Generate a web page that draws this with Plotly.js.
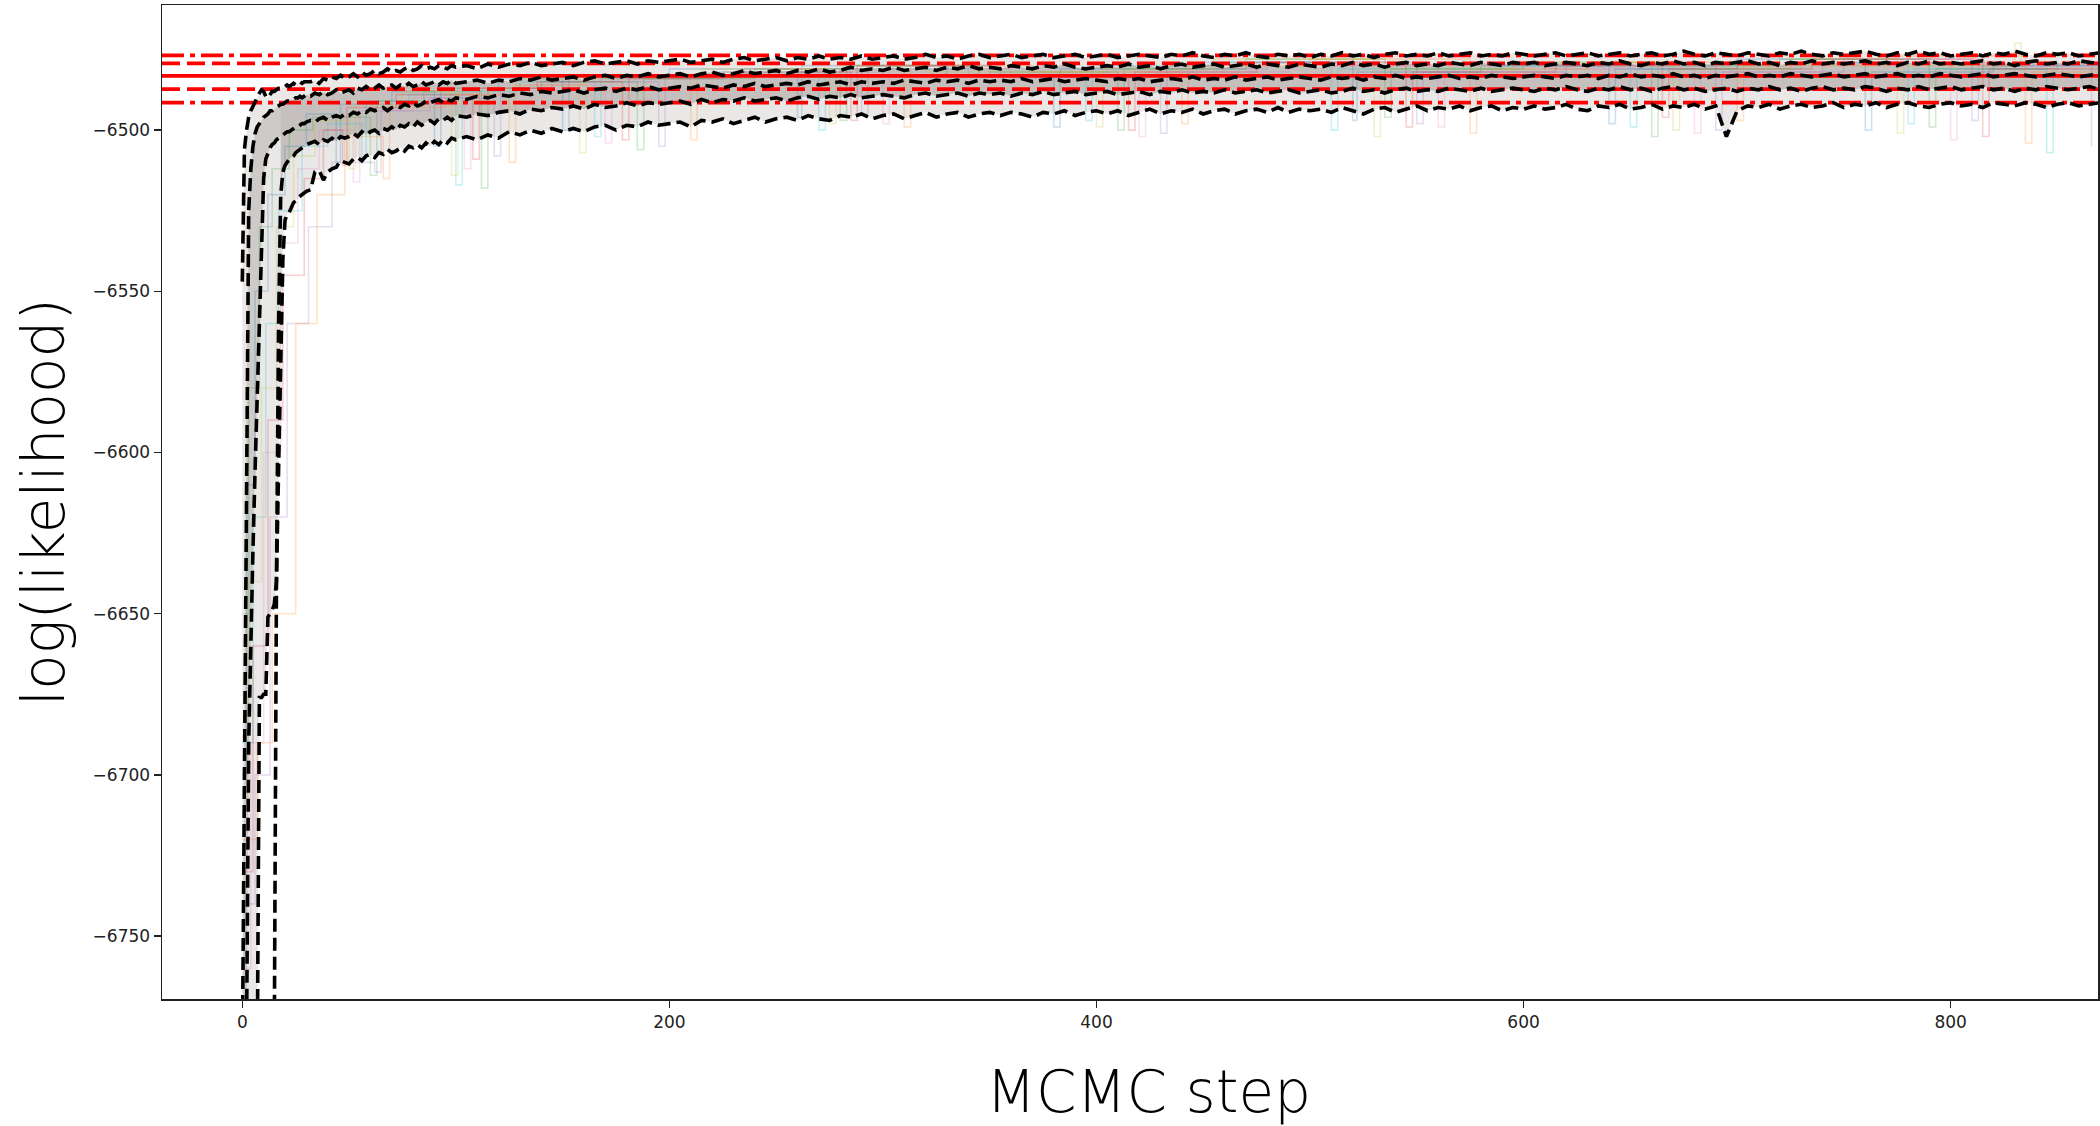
<!DOCTYPE html>
<html>
<head>
<meta charset="utf-8">
<script src="https://cdn.plot.ly/plotly-3.0.1.min.js"></script>
<style>
  html, body { margin: 0; padding: 0; background: #fff; }
  #chart { width: 2100px; height: 1126px; }
</style>
</head>
<body>
<div id="chart"></div>
<script>
// MCMC step grid: every step early on, then coarser
const steps = [
  0,1,2,3,4,5,6,7,8,9,10,11,12,13,14,15,16,17,18,19,20,21,22,23,24,25,26,27,28,29,30,
  32,34,36,38,40,42,44,46,48,50,52,54,56,58,60,62,64,66,68,70,72,74,76,78,80,82,84,86,88,90,92,94,96,98,100,
  105,110,115,120,125,130,135,140,145,150,155,160,165,170,175,180,185,190,195,200,
  205,210,215,220,225,230,235,240,245,250,255,260,265,270,275,280,285,290,295,300,
  305,310,315,320,325,330,335,340,345,350,355,360,365,370,375,380,385,390,395,400,
  405,410,415,420,425,430,435,440,445,450,455,460,465,470,475,480,485,490,495,500,
  505,510,515,520,525,530,535,540,545,550,555,560,565,570,575,580,585,590,595,600,
  605,610,615,620,625,630,635,640,645,650,655,660,665,670,675,680,685,690,695,700,
  705,710,715,720,725,730,735,740,745,750,755,760,765,770,775,780,785,790,795,800,
  805,810,815,820,825,830,835,840,845,850,855,860,865,870
];

// Percentiles of log(likelihood) across walkers at each step
const p975 = [
  -6547,-6506,-6500,-6496,-6494,-6492.5,-6491,-6489.5,-6488.5,-6487.5,-6488,-6489.5,-6490,-6489,-6488,-6488,-6487.5,-6487,-6487,-6486.5,-6486.5,-6486,-6486.5,-6486,-6485.5,-6486,-6485.5,-6485,-6485.5,-6485,-6485,
  -6485,-6484.5,-6485.5,-6484,-6484.5,-6483.5,-6484,-6483,-6484,-6483.5,-6482.5,-6483.5,-6482,-6483,-6482.5,-6481.5,-6482.5,-6482,-6481,-6482,-6481.5,-6482,-6481,-6480.5,-6481.5,-6481,-6480,-6481,-6480.5,-6481,-6480,-6480.5,-6481,-6480,-6480.5,
  -6480,-6481,-6479.5,-6480.5,-6479.5,-6480,-6479,-6480,-6479.5,-6479,
  -6480,-6479,-6478.5,-6479.5,-6479,-6478.5,-6479.5,-6478.5,-6479,-6478.5,
  -6478,-6479,-6478.5,-6478,-6479,-6478,-6477.5,-6478.5,-6478,-6477.5,
  -6478.5,-6477.5,-6478,-6477,-6478,-6477.5,-6478,-6477,-6478,-6477.5,
  -6477,-6478,-6477.5,-6476.5,-6477.5,-6477,-6478,-6477,-6476.5,-6477.5,
  -6477,-6476.5,-6477.5,-6477,-6476.5,-6477.5,-6477,-6476.5,-6477.5,-6477,
  -6476.5,-6477.5,-6477,-6476.5,-6477,-6477.5,-6476.5,-6477,-6476,-6477,
  -6477.5,-6476.5,-6477,-6476,-6477,-6477.5,-6476.5,-6477,-6476.5,-6477.5,
  -6476.5,-6477,-6476,-6477,-6476.5,-6477.5,-6476.5,-6476,-6477,-6476.5,
  -6477,-6476,-6477,-6476.5,-6476,-6477,-6476.5,-6477,-6476,-6476.5,
  -6477,-6476.5,-6476,-6477,-6476.5,-6476,-6477,-6476.5,-6476,-6477,
  -6476.5,-6476,-6477,-6476.5,-6475.5,-6476.5,-6477,-6476,-6476.5,-6477,
  -6476,-6476.5,-6477,-6476,-6476.5,-6475.5,-6476.5,-6477,-6476,-6476.5,
  -6476,-6475.5,-6476.5,-6477,-6476,-6476.5,-6475.5,-6476.5,-6476,-6477,
  -6476.5,-6476,-6477,-6476,-6476.5,-6475.5,-6476.5,-6477,-6476,-6476.5,
  -6476,-6477,-6476.5,-6476
];
const p84 = [
  -6790,-6700,-6580,-6525,-6512,-6505,-6501,-6499,-6498,-6497,-6496,-6495.5,-6495,-6494,-6494,-6493.5,-6493,-6492.5,-6492,-6492,-6491.5,-6491,-6491,-6490.5,-6490.5,-6490,-6490,-6489.5,-6490,-6489.5,-6489,
  -6489.5,-6488.5,-6489,-6488,-6489,-6488.5,-6487.5,-6488.5,-6488,-6487.5,-6488.5,-6487,-6487.5,-6486.5,-6487.5,-6487,-6486,-6487,-6486.5,-6486,-6487,-6486,-6486.5,-6485.5,-6486.5,-6486,-6485,-6486,-6485.5,-6485,-6486,-6485,-6485.5,-6484.5,-6485.5,
  -6485,-6484.5,-6485.5,-6484.5,-6485,-6484,-6484.5,-6483.5,-6484.5,-6484,
  -6483.5,-6484.5,-6483.5,-6483,-6484,-6483,-6483.5,-6482.5,-6483.5,-6483,
  -6482.5,-6483.5,-6482.5,-6482,-6483,-6482.5,-6481.5,-6482.5,-6482,-6481.5,
  -6482.5,-6481.5,-6482,-6481,-6482,-6481.5,-6480.5,-6481.5,-6481,-6481.5,
  -6480.5,-6481.5,-6481,-6480.5,-6481.5,-6480.5,-6481,-6480,-6481,-6480.5,
  -6481,-6480,-6480.5,-6481,-6480,-6480.5,-6479.5,-6480.5,-6481,-6480.5,
  -6480,-6480.5,-6479.5,-6480.5,-6480,-6481,-6480,-6479.5,-6480.5,-6480,
  -6479.5,-6480.5,-6480,-6479.5,-6480.5,-6479.5,-6480,-6480.5,-6479.5,-6480,
  -6480.5,-6479.5,-6480,-6479,-6480,-6479.5,-6480.5,-6479.5,-6479,-6480,
  -6479.5,-6480,-6479,-6479.5,-6480,-6479,-6479.5,-6480,-6479,-6479.5,
  -6479,-6480,-6479.5,-6479,-6479.5,-6480,-6479,-6479.5,-6478.5,-6479.5,
  -6480,-6479,-6479.5,-6478.5,-6479.5,-6479,-6480,-6479,-6479.5,-6479,
  -6478.5,-6479.5,-6479,-6480,-6479,-6479.5,-6478.5,-6479.5,-6479,-6479.5,
  -6479,-6478.5,-6479.5,-6479,-6480,-6479,-6479.5,-6478.5,-6479.5,-6479,
  -6479.5,-6479,-6478.5,-6479.5,-6479,-6480,-6479,-6478.5,-6479.5,-6479,
  -6479.5,-6478.5,-6479,-6479.5
];
const p50 = [
  -6900,-6840,-6780,-6690,-6655,-6630,-6605,-6582,-6562,-6532,-6515,-6509,-6507,-6505.5,-6504.5,-6504,-6503,-6502.5,-6502,-6501.5,-6501,-6500.5,-6500.5,-6500,-6499.5,-6499,-6499,-6498.5,-6498,-6498,-6497.5,
  -6497,-6497.5,-6496.5,-6496,-6497,-6496,-6495.5,-6496,-6495,-6495.5,-6494.5,-6495,-6494,-6494.5,-6493.5,-6494,-6493.5,-6493,-6494,-6493,-6492.5,-6493,-6492,-6492.5,-6491.5,-6492.5,-6492,-6491,-6491.5,-6491,-6490.5,-6491.5,-6490.5,-6491,-6490,
  -6490.5,-6489.5,-6490,-6489,-6489.5,-6488.5,-6489,-6488,-6488.5,-6488,
  -6487.5,-6488.5,-6487.5,-6487,-6488,-6487,-6487.5,-6486.5,-6487.5,-6487,
  -6486.5,-6487,-6486,-6486.5,-6487,-6486,-6486.5,-6485.5,-6486.5,-6486,
  -6485.5,-6486,-6485,-6486,-6485.5,-6485,-6486,-6485,-6485.5,-6485,
  -6485.5,-6484.5,-6485,-6485.5,-6484.5,-6485,-6484.5,-6485.5,-6484.5,-6485,
  -6484.5,-6485,-6484,-6485,-6484.5,-6484,-6485,-6484.5,-6484,-6484.5,
  -6485,-6484,-6484.5,-6484,-6485,-6484.5,-6484,-6484.5,-6483.5,-6484.5,
  -6484,-6484.5,-6483.5,-6484.5,-6484,-6483.5,-6484.5,-6484,-6483.5,-6484,
  -6484.5,-6483.5,-6484,-6483.5,-6484.5,-6483.5,-6484,-6483,-6484,-6483.5,
  -6484,-6483.5,-6483,-6484,-6483.5,-6484,-6483,-6483.5,-6484,-6483.5,
  -6483,-6483.5,-6484,-6483,-6483.5,-6483,-6484,-6483,-6483.5,-6482.5,
  -6483.5,-6483,-6483.5,-6482.5,-6483.5,-6483,-6484,-6483,-6483.5,-6483,
  -6482.5,-6483.5,-6483,-6483.5,-6482.5,-6483,-6483.5,-6483,-6482.5,-6483.5,
  -6483,-6482.5,-6483.5,-6483,-6482.5,-6483.5,-6483,-6483.5,-6482.5,-6483,
  -6483.5,-6483,-6482.5,-6483.5,-6483,-6482.5,-6483,-6483.5,-6483,-6482.5,
  -6483,-6483.5,-6483,-6482.5
];
const p16 = [
  -6990,-6980,-6970,-6960,-6950,-6940,-6925,-6910,-6895,-6880,-6860,-6840,-6820,-6800,-6790,-6780,-6640,-6560,-6520,-6513,-6511,-6510,-6509,-6508.5,-6508,-6507,-6506.5,-6506,-6505.5,-6505,-6504.5,
  -6504,-6503.5,-6504.5,-6503,-6503.5,-6502.5,-6503.5,-6502,-6502.5,-6502,-6501,-6502,-6500.5,-6501.5,-6500.5,-6500,-6501,-6499.5,-6500,-6499,-6500,-6498.5,-6499,-6498,-6499,-6497.5,-6498.5,-6497.5,-6497,-6498,-6496.5,-6497,-6496,-6497,-6495.5,
  -6496,-6495,-6495.5,-6494.5,-6494,-6495,-6493.5,-6494,-6493,-6493.5,
  -6492.5,-6493.5,-6492,-6493,-6492.5,-6491.5,-6492.5,-6491.5,-6492,-6491.5,
  -6491,-6492,-6490.5,-6491.5,-6490.5,-6491,-6490,-6491,-6490.5,-6490,
  -6491,-6490,-6489.5,-6490.5,-6489.5,-6490,-6489,-6490,-6489.5,-6489,
  -6489.5,-6490,-6489,-6488.5,-6489.5,-6489,-6488.5,-6489.5,-6488.5,-6489,
  -6488.5,-6489.5,-6488.5,-6489,-6488,-6489,-6488.5,-6488,-6489,-6488.5,
  -6488,-6489,-6488.5,-6488,-6489,-6488,-6488.5,-6487.5,-6488.5,-6488,
  -6488.5,-6487.5,-6488.5,-6488,-6487.5,-6488.5,-6488,-6487.5,-6488.5,-6488,
  -6487.5,-6488.5,-6488,-6487,-6488,-6487.5,-6488.5,-6487.5,-6487,-6488,
  -6487.5,-6488,-6487,-6487.5,-6488,-6487,-6488,-6487.5,-6487,-6487.5,
  -6488,-6487,-6487.5,-6486.5,-6487.5,-6488,-6487,-6487.5,-6486.5,-6487.5,
  -6487,-6488,-6487,-6486.5,-6487.5,-6487,-6488,-6487.5,-6487,-6488,
  -6487,-6487.5,-6486.5,-6487.5,-6487,-6488,-6487,-6486.5,-6487.5,-6487,
  -6487.5,-6486.5,-6487,-6488,-6487,-6487.5,-6486.5,-6487.5,-6487,-6486.5,
  -6487.5,-6487,-6486.5,-6487.5,-6487,-6488,-6487,-6487.5,-6486.5,-6487,
  -6487.5,-6487,-6486.5,-6487.5
];
const p025 = [
  -7000,-6995,-6990,-6985,-6980,-6975,-6970,-6790,-6676,-6676,-6675,-6675,-6651,-6650,-6649,-6647,-6640,-6605,-6570,-6540,-6528,-6526,-6525.5,-6524,-6522.5,-6522,-6521,-6520.5,-6520,-6519.5,-6519,
  -6518.5,-6513,-6512.5,-6515.5,-6513,-6512,-6511.5,-6509.5,-6510,-6510.5,-6509,-6508.5,-6509.5,-6508,-6507.5,-6508.5,-6507,-6507.5,-6506,-6507,-6506.5,-6505.5,-6506.5,-6505,-6505.5,-6504.5,-6505.5,-6504,-6505,-6503.5,-6504.5,-6503,-6504,-6502.5,-6503,
  -6502,-6503,-6501.5,-6502.5,-6500.5,-6501.5,-6500,-6501,-6499.5,-6500.5,
  -6499.5,-6500.5,-6499,-6498.5,-6500,-6498.5,-6499,-6497.5,-6498.5,-6498,
  -6497.5,-6499,-6497,-6497.5,-6496.5,-6498,-6497,-6496,-6497.5,-6496.5,
  -6496,-6497,-6495.5,-6496.5,-6497,-6495.5,-6496,-6495,-6496.5,-6495.5,
  -6495,-6496.5,-6495.5,-6494.5,-6496,-6495,-6494.5,-6496,-6495,-6494.5,
  -6495.5,-6494.5,-6495,-6496,-6494.5,-6495,-6494,-6495.5,-6494.5,-6494,
  -6495,-6494,-6495.5,-6494.5,-6493.5,-6495,-6494,-6494.5,-6493.5,-6495,
  -6494,-6493.5,-6495,-6494,-6493.5,-6494.5,-6493,-6494.5,-6493.5,-6494,
  -6493.5,-6494.5,-6493,-6494,-6495,-6493.5,-6493,-6494.5,-6493.5,-6492.5,
  -6494,-6493,-6493.5,-6492.5,-6494,-6493,-6492.5,-6494,-6493,-6493.5,
  -6492.5,-6493.5,-6493,-6492,-6493.5,-6494,-6492.5,-6493,-6492,-6493.5,
  -6493,-6492,-6493.5,-6492.5,-6493,-6492,-6493.5,-6492.5,-6502,-6494,
  -6492.5,-6493,-6492,-6493.5,-6492.5,-6492,-6493,-6492.5,-6491.5,-6493,
  -6492,-6492.5,-6491.5,-6493,-6492,-6491.5,-6492.5,-6493,-6492,-6491.5,
  -6492.5,-6492,-6493,-6491.5,-6492,-6492.5,-6491.5,-6492,-6493,-6492,
  -6491.5,-6492.5,-6492,-6491.5
];

// Reference levels from the converged chain: 2.5/16/50/84/97.5 %
const refLevels = [-6476.8, -6479.3, -6483.2, -6487.3, -6491.5];
const refDash = ['dashdot', 'dash', 'solid', 'dash', 'dashdot'];

// A few individual walkers, recorded at the steps where they moved
const walkerSteps = [
  [0,2,6,12,20,30,44,46,70,90,93,120,150,153,200,260,262,330,380,383,450,520,522,580,640,643,700,760,763,820,870],
  [0,4,10,18,26,36,52,55,80,104,107,135,170,173,230,300,303,360,420,423,490,560,563,610,680,683,740,800,803,860],
  [0,3,8,14,22,33,60,63,85,112,115,140,185,188,240,280,283,350,410,413,470,535,538,600,660,663,720,790,793,850],
  [0,7,14,25,35,48,66,69,95,125,128,160,210,213,250,310,313,370,440,443,500,575,578,630,700,703,770,835,838,870],
  [0,5,11,17,28,40,56,58,78,100,103,130,165,168,220,270,273,340,395,398,460,510,513,590,650,653,730,780,783,845,848],
  [0,6,13,21,31,42,62,65,88,118,121,145,195,198,235,290,293,355,430,433,480,550,553,620,690,693,750,810,813,866],
  [0,3,9,16,24,34,50,53,75,98,101,128,158,161,215,275,278,320,400,403,455,530,533,595,670,673,725,775,778,830,833],
  [0,5,12,19,29,38,47,49,72,108,111,138,178,181,225,285,288,345,415,418,475,545,548,615,665,668,735,815,818,869]
];
const walkerVals = [
  [-6700,-6610,-6550,-6520,-6505,-6495,-6510,-6492,-6488,-6505,-6487,-6484,-6500,-6483,-6481,-6496,-6480,-6483,-6499,-6481,-6479,-6497,-6482,-6480,-6498,-6481,-6478,-6500,-6482,-6480,-6481],
  [-6760,-6690,-6600,-6535,-6512,-6500,-6516,-6494,-6490,-6512,-6489,-6486,-6504,-6484,-6482,-6498,-6481,-6484,-6502,-6482,-6480,-6499,-6483,-6481,-6501,-6482,-6479,-6503,-6481,-6480],
  [-6650,-6580,-6530,-6512,-6500,-6496,-6514,-6491,-6488,-6518,-6487,-6485,-6506,-6484,-6481,-6497,-6480,-6482,-6500,-6481,-6478,-6496,-6481,-6479,-6502,-6480,-6478,-6499,-6481,-6479],
  [-6720,-6690,-6650,-6560,-6520,-6502,-6515,-6493,-6489,-6510,-6486,-6484,-6503,-6483,-6481,-6499,-6480,-6482,-6498,-6480,-6478,-6501,-6481,-6479,-6497,-6480,-6477,-6504,-6482,-6480],
  [-6690,-6620,-6560,-6525,-6505,-6498,-6509,-6491,-6489,-6517,-6488,-6485,-6502,-6484,-6482,-6500,-6481,-6483,-6497,-6480,-6479,-6500,-6481,-6480,-6499,-6481,-6479,-6498,-6481,-6507,-6482],
  [-6740,-6700,-6620,-6560,-6530,-6510,-6513,-6494,-6490,-6508,-6487,-6485,-6505,-6483,-6481,-6495,-6480,-6483,-6501,-6481,-6479,-6498,-6482,-6480,-6500,-6482,-6478,-6497,-6480,-6505],
  [-6710,-6640,-6580,-6530,-6508,-6497,-6512,-6492,-6488,-6514,-6487,-6484,-6507,-6483,-6481,-6498,-6480,-6482,-6499,-6481,-6478,-6502,-6481,-6479,-6500,-6481,-6478,-6501,-6480,-6473,-6480],
  [-6730,-6660,-6590,-6545,-6515,-6500,-6511,-6493,-6489,-6509,-6487,-6485,-6503,-6484,-6482,-6497,-6480,-6483,-6500,-6482,-6479,-6499,-6482,-6480,-6496,-6481,-6478,-6502,-6481,-6480]
];
const walkerColors = ['#1f77b4', '#e377c2', '#2ca02c', '#ff7f0e', '#17becf', '#9467bd', '#bcbd22', '#d62728'];

const xRange = [-37.6, 869];
const yRange = [-6769.5, -6461.2];
const yTicks = [-6750, -6700, -6650, -6600, -6550, -6500];
const yTickText = ['\u22126750', '\u22126700', '\u22126650', '\u22126600', '\u22126550', '\u22126500'];
const xTicks = [0, 200, 400, 600, 800];

const traces = [];
const band = 'rgba(125,115,108,';

// spread of the walkers: outer band 2.5-97.5 %
traces.push({ x: steps, y: p025, mode: 'lines', line: { width: 0 }, hoverinfo: 'skip', showlegend: false });
traces.push({ x: steps, y: p975, mode: 'lines', line: { width: 0 }, fill: 'tonexty',
  fillcolor: band + '0.16)', hoverinfo: 'skip', showlegend: false });

// inner band: 50-84 % during burn-in, 16-84 % once the 16 % curve has come up
const cut = 18;
traces.push({ x: steps.slice(0, cut + 1), y: p50.slice(0, cut + 1), mode: 'lines', line: { width: 0 }, hoverinfo: 'skip', showlegend: false });
traces.push({ x: steps.slice(0, cut + 1), y: p84.slice(0, cut + 1), mode: 'lines', line: { width: 0 }, fill: 'tonexty',
  fillcolor: band + '0.26)', hoverinfo: 'skip', showlegend: false });
traces.push({ x: steps.slice(cut), y: p16.slice(cut), mode: 'lines', line: { width: 0 }, hoverinfo: 'skip', showlegend: false });
traces.push({ x: steps.slice(cut), y: p84.slice(cut), mode: 'lines', line: { width: 0 }, fill: 'tonexty',
  fillcolor: band + '0.34)', hoverinfo: 'skip', showlegend: false });

// individual walkers, faint
walkerSteps.forEach((s, i) => {
  traces.push({ x: s, y: walkerVals[i], mode: 'lines', line: { shape: 'hv', width: 1.6, color: walkerColors[i] },
    opacity: 0.22, hoverinfo: 'skip', showlegend: false });
});

// reference levels across the full axis width
const dashPattern = { dash: '18px,7px', dashdot: '22px,6px,5px,6px', solid: 'solid' };
refLevels.forEach((v, i) => {
  traces.push({ x: xRange, y: [v, v], mode: 'lines',
    line: { color: '#ff0000', width: 3.8, dash: dashPattern[refDash[i]] }, hoverinfo: 'skip', showlegend: false });
});

// percentile curves
[p975, p84, p50, p16, p025].forEach(p => {
  traces.push({ x: steps, y: p, mode: 'lines',
    line: { color: '#000000', width: 3.6, dash: '13px,6px' }, hoverinfo: 'skip', showlegend: false });
});

const tickFont = { family: 'DejaVu Sans', size: 17, color: '#222' };
const titleFont = { family: 'DejaVu Sans', size: 58, weight: 200, color: '#000' };

const layout = {
  width: 2100, height: 1126,
  paper_bgcolor: '#fff', plot_bgcolor: '#fff',
  margin: { l: 162, r: 2, t: 5, b: 127 },
  showlegend: false,
  xaxis: {
    range: xRange, tickvals: xTicks, ticks: 'outside', ticklen: 7, tickwidth: 1.3, tickcolor: '#222',
    tickfont: tickFont, showgrid: false, zeroline: false,
    showline: true, mirror: true, linecolor: '#222', linewidth: 1.5
  },
  yaxis: {
    range: yRange, tickvals: yTicks, ticktext: yTickText, ticks: 'outside', ticklen: 7, tickwidth: 1.3, tickcolor: '#222',
    tickfont: tickFont, showgrid: false, zeroline: false,
    showline: true, mirror: true, linecolor: '#222', linewidth: 1.5,
    title: { text: 'log(likelihood)', font: titleFont, standoff: 9 }
  },
  annotations: [{
    text: 'MCMC step', font: titleFont, showarrow: false,
    xref: 'paper', yref: 'paper', x: 0.5093, y: 0, xanchor: 'center', yanchor: 'middle', yshift: -93
  }]
};

Plotly.newPlot('chart', traces, layout, { staticPlot: true, displayModeBar: false });
</script>
</body>
</html>
